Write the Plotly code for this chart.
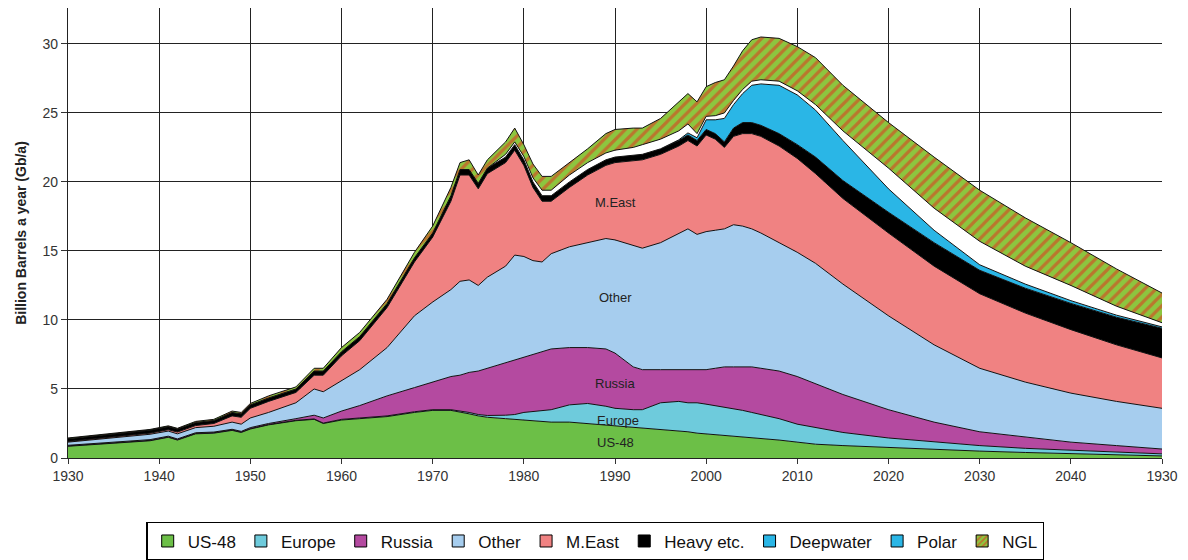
import plotly.graph_objects as go

years = [1930, 1933, 1936, 1939, 1941, 1942, 1944, 1946, 1948, 1949, 1950, 1952,
         1955, 1957, 1958, 1960, 1962, 1965, 1968, 1970, 1972, 1973, 1974, 1975,
         1976, 1978, 1979, 1980, 1981, 1982, 1983, 1985, 1987, 1989, 1990, 1992,
         1993, 1995, 1997, 1998, 1999, 2000, 2001, 2002, 2003, 2004, 2005, 2006,
         2008, 2010, 2012, 2015, 2020, 2025, 2030, 2035, 2040, 2045, 2050]

us48 = [0.85, 1.0, 1.15, 1.25, 1.5, 1.3, 1.75, 1.8, 2.0, 1.85, 2.1, 2.4,
        2.7, 2.8, 2.5, 2.75, 2.85, 3.0, 3.3, 3.45, 3.45, 3.35, 3.2, 3.05,
        2.95, 2.85, 2.8, 2.7, 2.65, 2.6, 2.6, 2.6, 2.5, 2.4, 2.35, 2.25,
        2.2, 2.05, 1.95, 1.9, 1.8, 1.75, 1.7, 1.65, 1.6, 1.55, 1.5, 1.45,
        1.3, 1.15, 1.0, 0.9, 0.75, 0.6, 0.5, 0.4, 0.3, 0.22, 0.15]

europe = [0.03, 0.03, 0.03, 0.03, 0.03, 0.03, 0.03, 0.03, 0.03, 0.03, 0.03, 0.03,
          0.03, 0.03, 0.03, 0.05, 0.05, 0.05, 0.05, 0.05, 0.05, 0.07, 0.1, 0.1,
          0.13, 0.25, 0.35, 0.6, 0.7, 0.8, 0.9, 1.25, 1.45, 1.35, 1.25, 1.25,
          1.3, 1.95, 2.15, 2.1, 2.2, 2.15, 2.1, 2.05, 2.0, 1.9, 1.8, 1.7,
          1.55, 1.3, 1.2, 0.95, 0.7, 0.55, 0.4, 0.3, 0.25, 0.2, 0.15]

russia = [0.04, 0.04, 0.04, 0.05, 0.05, 0.05, 0.05, 0.05, 0.05, 0.05, 0.07, 0.07,
          0.12, 0.27, 0.37, 0.6, 0.9, 1.45, 1.75, 2.0, 2.4, 2.58, 2.9, 3.15,
          3.42, 3.8, 3.95, 4.0, 4.15, 4.3, 4.4, 4.15, 4.05, 4.15, 4.0, 3.1,
          2.9, 2.4, 2.3, 2.4, 2.4, 2.5, 2.7, 2.9, 3.0, 3.15, 3.3, 3.35,
          3.45, 3.45, 3.2, 2.75, 2.05, 1.45, 1.0, 0.8, 0.6, 0.48, 0.35]

other = [0.23, 0.28, 0.33, 0.39, 0.37, 0.37, 0.37, 0.42, 0.52, 0.52, 0.7, 0.8,
         1.15, 1.9, 1.9, 2.2, 2.6, 3.5, 5.2, 5.8, 6.3, 6.8, 6.7, 6.2,
         6.6, 7.0, 7.6, 7.3, 6.8, 6.5, 6.9, 7.3, 7.6, 8.0, 8.2, 8.8,
         8.8, 9.2, 9.9, 10.2, 9.8, 10.0, 10.0, 10.0, 10.3, 10.2, 10.0, 9.8,
         9.3, 9.0, 8.7, 8.0, 6.8, 5.6, 4.6, 4.0, 3.55, 3.2, 2.95]

meast = [0.05, 0.05, 0.07, 0.08, 0.1, 0.13, 0.15, 0.2, 0.45, 0.5, 0.7, 0.8,
         0.75, 1.0, 1.2, 1.8, 2.1, 2.9, 3.9, 4.7, 6.4, 7.7, 7.6, 7.0,
         7.5, 7.5, 7.6, 6.6, 5.3, 4.4, 3.8, 4.3, 4.9, 5.3, 5.6, 6.1,
         6.4, 6.4, 6.3, 6.4, 6.4, 7.0, 6.6, 5.9, 6.4, 6.7, 6.9, 7.0,
         7.0, 6.8, 6.5, 6.2, 6.0, 5.7, 5.4, 5.0, 4.6, 4.1, 3.65]

heavy = [0.2, 0.2, 0.23, 0.22, 0.23, 0.22, 0.23, 0.22, 0.25, 0.25, 0.25, 0.25,
         0.25, 0.3, 0.3, 0.3, 0.3, 0.3, 0.3, 0.3, 0.4, 0.4, 0.4, 0.4,
         0.4, 0.4, 0.4, 0.4, 0.4, 0.4, 0.4, 0.4, 0.4, 0.4, 0.4, 0.4,
         0.4, 0.4, 0.4, 0.4, 0.4, 0.4, 0.4, 0.4, 0.6, 0.8, 0.8, 0.8,
         0.9, 1.0, 1.2, 1.3, 1.5, 1.7, 1.7, 1.8, 1.9, 2.0, 2.15]

deepwater = [0, 0, 0, 0, 0, 0, 0, 0, 0, 0, 0, 0,
             0, 0, 0, 0, 0, 0, 0, 0, 0, 0, 0, 0,
             0, 0, 0, 0, 0, 0, 0, 0, 0, 0, 0, 0,
             0, 0, 0.05, 0.15, 0.2, 0.7, 1.0, 1.7, 1.7, 2.1, 2.7, 3.0,
             3.5, 3.6, 3.4, 2.9, 1.7, 0.9, 0.4, 0.3, 0.2, 0.15, 0.1]

polar = [0, 0, 0, 0, 0, 0, 0, 0, 0, 0, 0, 0,
         0, 0, 0, 0, 0, 0, 0, 0, 0, 0, 0, 0,
         0, 0.2, 0.2, 0.25, 0.3, 0.4, 0.4, 0.5, 0.5, 0.5, 0.5, 0.6,
         0.7, 0.7, 0.65, 0.65, 0.3, 0.25, 0.3, 0.4, 0.3, 0.3, 0.3, 0.3,
         0.3, 0.3, 0.4, 0.7, 1.5, 1.6, 1.7, 1.3, 1.1, 0.65, 0.3]

ngl = [0.05, 0.05, 0.05, 0.05, 0.05, 0.05, 0.07, 0.08, 0.1, 0.1, 0.1, 0.15,
       0.15, 0.2, 0.2, 0.3, 0.3, 0.3, 0.4, 0.5, 0.6, 0.5, 0.7, 0.6,
       0.6, 0.9, 1.0, 0.85, 1.0, 1.0, 1.0, 0.9, 1.0, 1.4, 1.5, 1.4,
       1.2, 1.5, 2.1, 2.2, 2.3, 2.15, 2.4, 2.4, 2.5, 2.8, 3.0, 3.1,
       3.1, 3.2, 3.4, 3.3, 3.3, 3.7, 3.7, 3.5, 3.1, 2.7, 2.15]

series_names = ["US-48", "Europe", "Russia", "Other", "M.East", "Heavy etc.",
                "Deepwater", "Polar", "NGL"]
series_values = [us48, europe, russia, other, meast, heavy, deepwater, polar, ngl]
fill_colors = ["#6cbf47", "#6ecbdc", "#b44aa0", "#a6cdee", "#f08282", "#000000",
               "#2ab6e6", "#ffffff", "#8cc63f"]
legend_colors = ["#6cbf47", "#6ecbdc", "#b44aa0", "#a6cdee", "#f08282", "#000000",
                 "#2ab6e6", "#2ab6e6", "#8cc63f"]

tick_years = [1930, 1940, 1950, 1960, 1970, 1980, 1990, 2000, 2010, 2020, 2030, 2040, 2050]
tick_labels = ["1930", "1940", "1950", "1960", "1970", "1980", "1990", "2000",
               "2010", "2020", "2030", "2040", "1930"]

region_labels = ["M.East", "Other", "Russia", "Europe", "US-48"]
label_x = [1990, 1990, 1990, 1990.3, 1990]
label_y = [18.5, 11.6, 5.4, 2.7, 1.1]

fig = go.Figure()

for name, vals, fc in zip(series_names, series_values, fill_colors):
    kw = {}
    if name == "NGL":
        kw["fillpattern"] = dict(shape="/", bgcolor="#8cc63f", fgcolor="#e8251b",
                                 size=8, solidity=0.4)
    fig.add_trace(go.Scatter(
        x=years, y=vals, name=name, mode="lines", stackgroup="one",
        line=dict(color="#111111", width=1), fillcolor=fc,
        showlegend=False, hoverinfo="skip", **kw))

# legend swatches
for name, lc in zip(series_names, legend_colors):
    marker = dict(color=lc, line=dict(color="#000000", width=1))
    if name == "NGL":
        marker["pattern"] = dict(shape="/", bgcolor="#8cc63f", fgcolor="#e8251b",
                                 size=5, solidity=0.45)
    fig.add_trace(go.Bar(x=[None], y=[None], name=name, marker=marker,
                         showlegend=True, hoverinfo="skip"))

for t, lx, ly in zip(region_labels, label_x, label_y):
    fig.add_annotation(x=lx, y=ly, text=t, showarrow=False,
                       font=dict(family="Liberation Sans, Arial", size=13, color="#222222"))

fig.update_layout(
    width=1188, height=560,
    margin=dict(l=68, r=26, t=8, b=102),
    paper_bgcolor="white", plot_bgcolor="white",
    font=dict(family="Liberation Sans, Arial", color="#222222"),
    showlegend=True,
    legend=dict(orientation="h", xref="container", x=0.501, xanchor="center",
                yref="container", y=0.068, yanchor="top",
                bordercolor="#000000", borderwidth=1.5,
                font=dict(family="Liberation Sans, Arial", size=17, color="#111111"),
                itemwidth=30, traceorder="normal", tracegroupgap=0),
    xaxis=dict(range=[1930, 2050], tickvals=tick_years, ticktext=tick_labels,
               showgrid=True, gridcolor="#222222", gridwidth=1.3,
               ticks="outside", ticklen=5, tickcolor="#333333",
               showline=True, linecolor="#222222", linewidth=1.3,
               zeroline=False,
               tickfont=dict(family="Liberation Sans Narrow, Arial Narrow, Liberation Sans",
                             size=14, color="#333333")),
    yaxis=dict(range=[0, 32.6], tickvals=[0, 5, 10, 15, 20, 25, 30],
               showgrid=True, gridcolor="#222222", gridwidth=1.3,
               ticks="outside", ticklen=6, tickcolor="#333333",
               showline=True, linecolor="#222222", linewidth=1.3,
               zeroline=False,
               tickfont=dict(family="Liberation Sans, Arial", size=14, color="#333333"),
               title=dict(text="<b>Billion Barrels a year (Gb/a)</b>",
                          font=dict(family="Liberation Sans, Arial", size=14, color="#222222"),
                          standoff=12)),
)

fig.write_html("out.html", config={"displayModeBar": False},
               post_script="document.body.style.margin='0';")
